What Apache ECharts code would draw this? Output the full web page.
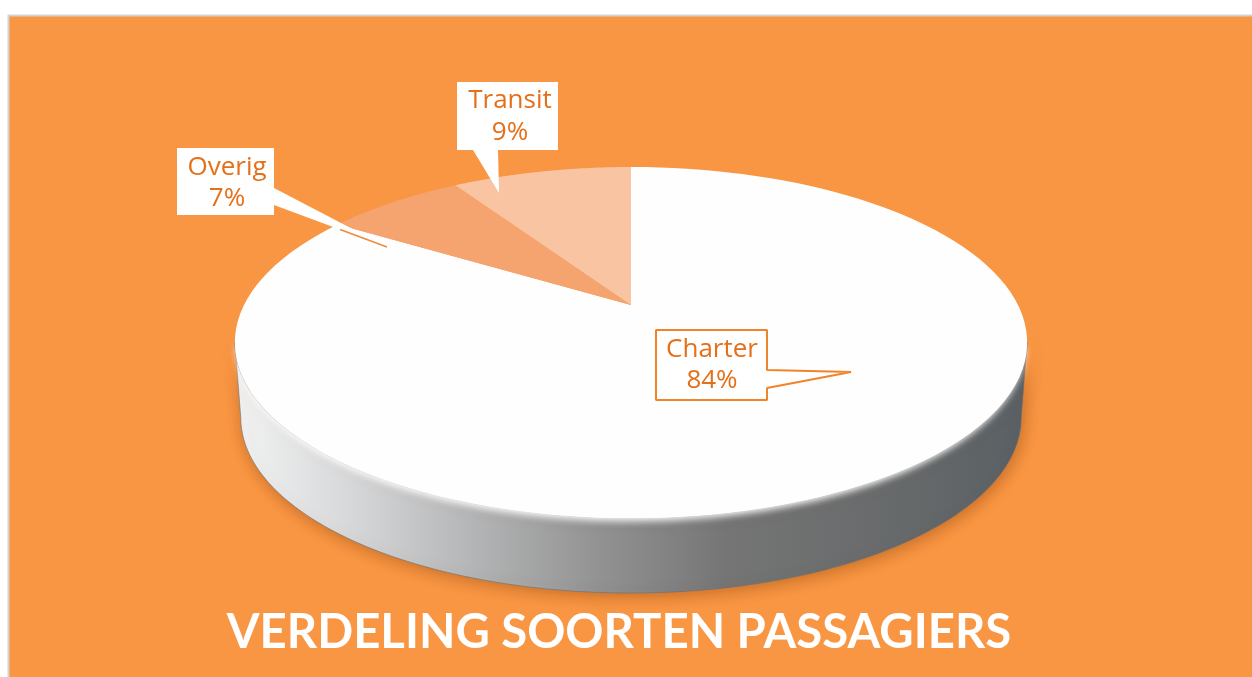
<!DOCTYPE html>
<html><head><meta charset="utf-8">
<style>html,body{margin:0;padding:0;background:#fff}#c{width:1252px;height:677px}</style>
<script src="https://cdn.jsdelivr.net/npm/echarts@6/dist/echarts.min.js"></script>
</head><body><div id="c"></div>
<script>
const chartTitle = 'VERDELING SOORTEN PASSAGIERS';
const categories = ['Charter', 'Overig', 'Transit'];
const shares = [84, 7, 9];
const sliceColors = ['#FEFEFE', '#F5A470', '#F9C4A2'];

// Perspective disc geometry
const CX = 631, CY = 305, AX = 387, BY = 167.5, K = -0.2137, DEPTH = 75, STEPS = 120;
function rim(a, dy, sx) {          // a: clockwise from 12 o'clock, radians
  const x = Math.sin(a), y = -Math.cos(a), d = 1 + K * y;
  return [CX + (sx || 1) * AX * x / d, CY + BY * y / d + (dy || 0)];
}
const total = shares.reduce((s, v) => s + v, 0);
function sliceAngles(i) {
  let before = 0;
  for (let j = 0; j < i; j++) before += shares[j];
  return [before / total * 2 * Math.PI, (before + shares[i]) / total * 2 * Math.PI];
}
function slicePoints(i) {
  const [a0, a1] = sliceAngles(i), pts = [[CX, CY]];
  for (let s = 0; s <= STEPS; s++) pts.push(rim(a0 + (a1 - a0) * s / STEPS));
  return pts;
}
const EXT = Math.asin(-K), FRONT0 = Math.PI / 2 + EXT, FRONT1 = 3 * Math.PI / 2 - EXT;
function frontRim(dy, sx) {
  const pts = [];
  for (let s = 0; s <= STEPS; s++) pts.push(rim(FRONT0 + (FRONT1 - FRONT0) * s / STEPS, dy, sx));
  return pts;
}
function wallPoints() { return frontRim(0, 1).concat(frontRim(DEPTH, 0.985).reverse()); }

// Callout layout, by category index
const callouts = [
  {box: [656, 330, 111, 70], tail: [[767, 370], [851, 372], [767, 388]], tx: 712, ty: [350, 381], stroke: '#F0842A'},
  {box: [177, 148, 97, 67], tail: [[274, 188], [387, 247], [274, 205]], tx: 227, ty: [168, 199], stroke: null},
  {box: [457, 82, 101, 68], tail: [[473, 150], [499, 193], [498, 150]], tx: 510, ty: [101, 133], stroke: null}
];
const labelFont = '500 26px "Open Sans", Lato, sans-serif';

function renderWall() {
  return {type: 'group', children: [{
    type: 'polygon',
    shape: {points: wallPoints()},
    style: {
      fill: {type: 'linear', x: 0, y: 0, x2: 1, y2: 0, colorStops: [
        {offset: 0, color: '#F2F3F3'}, {offset: 0.14, color: '#D8D9DA'},
        {offset: 0.3, color: '#B4B5B6'}, {offset: 0.46, color: '#929292'},
        {offset: 0.62, color: '#757575'}, {offset: 0.85, color: '#66696A'},
        {offset: 1, color: '#596064'}]},
      stroke: 'rgba(95,110,125,0.55)', lineWidth: 1,
      shadowColor: 'rgba(150,75,15,0.55)', shadowBlur: 16, shadowOffsetX: 2, shadowOffsetY: 3
    }
  }, {
    type: 'polygon',
    shape: {points: frontRim(0, 0.995)},
    style: {fill: '#FFFFFF', shadowColor: 'rgba(255,255,255,0.95)', shadowBlur: 7, shadowOffsetY: 3}
  }]};
}
function renderSlice(params) {
  const i = params.dataIndex;
  return {type: 'polygon', shape: {points: slicePoints(i)}, style: {fill: sliceColors[i]}};
}
function renderLabel(params) {
  const i = params.dataIndex, c = callouts[i], [x, y, w, h] = c.box;
  const pts = [[x, y], [x + w, y]];
  if (c.tail[0][0] === x + w) pts.push(c.tail[0], c.tail[1], c.tail[2], [x + w, y + h], [x, y + h]);
  else pts.push([x + w, y + h], c.tail[2], c.tail[1], c.tail[0], [x, y + h]);
  const children = [{
    type: 'polygon', shape: {points: pts},
    style: {fill: '#FFFFFF', stroke: c.stroke || '#FFFFFF', lineWidth: c.stroke ? 2 : 0, lineJoin: 'bevel'}
  }];
  if (i === 1) children.push({type: 'line', shape: {x1: 340, y1: 229.5, x2: c.tail[1][0], y2: c.tail[1][1]},
    style: {stroke: '#EE8A3A', lineWidth: 1.5}});
  [categories[i], shares[i] + '%'].forEach((t, n) => children.push({
    type: 'text',
    style: {text: t, x: c.tx, y: c.ty[n], align: 'center', verticalAlign: 'middle', fill: '#E4701A', font: labelFont}
  }));
  return {type: 'group', children};
}

const chart = echarts.init(document.getElementById('c'), null, {renderer: 'canvas'});
chart.setOption({
  animation: false,
  backgroundColor: '#FFFFFF',
  tooltip: {show: false},
  title: {
    text: chartTitle, left: 614, top: 604, textAlign: 'center',
    textStyle: {color: '#FFFFFF', fontFamily: 'Lato, "Open Sans", sans-serif', fontWeight: 700, fontSize: 47.3}
  },
  graphic: [{
    type: 'rect', z: -10, silent: true,
    shape: {x: 8.5, y: 15.5, width: 1250, height: 670},
    style: {fill: '#F99643', stroke: '#D3D3CF', lineWidth: 2}
  }],
  series: [
    {type: 'custom', coordinateSystem: 'none', silent: true, z: 2, renderItem: renderWall, data: [0]},
    {type: 'custom', coordinateSystem: 'none', silent: true, z: 3, renderItem: renderSlice, data: shares},
    {type: 'custom', coordinateSystem: 'none', silent: true, z: 4, renderItem: renderLabel, data: shares}
  ]
});
</script></body></html>
